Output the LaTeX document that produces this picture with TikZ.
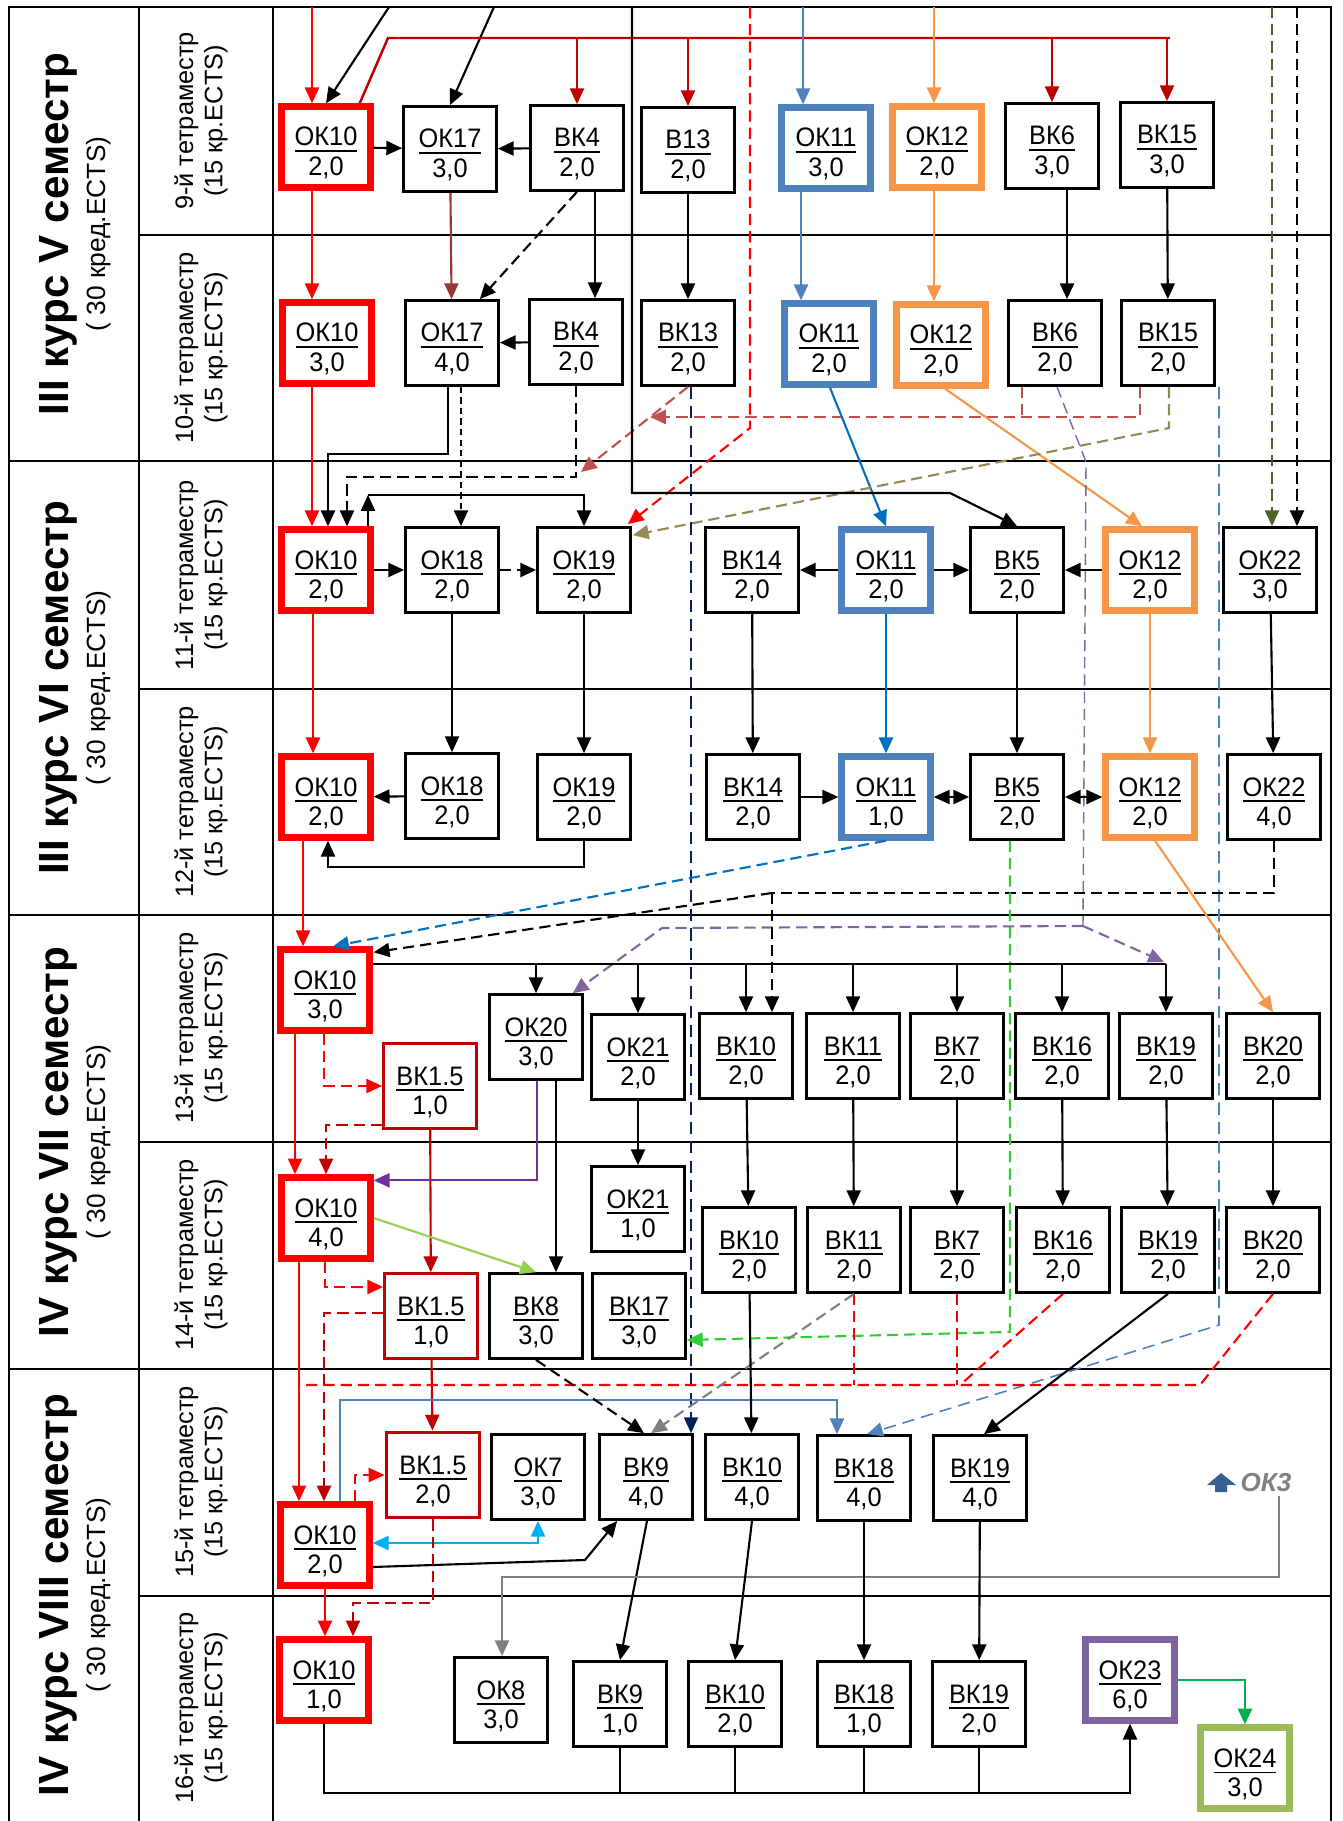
\documentclass[tikz,border=0pt]{standalone}
\usepackage{fontspec}
\setmainfont{Liberation Sans}
\newfontfamily\boxfont[FakeStretch=0.95]{Liberation Sans}
\usetikzlibrary{arrows.meta,positioning,calc}

\definecolor{cred}{HTML}{FF0000}
\definecolor{cdred}{HTML}{C00000}
\definecolor{cbrown}{HTML}{953735}
\definecolor{cblue}{HTML}{4F81BD}
\definecolor{cblue2}{HTML}{0070C0}
\definecolor{corange}{HTML}{F79646}
\definecolor{cpurple}{HTML}{8064A2}
\definecolor{cviolet}{HTML}{7030A0}
\definecolor{colive}{HTML}{938953}
\definecolor{cdolive}{HTML}{4F6228}
\definecolor{cnavy}{HTML}{002060}
\definecolor{cgreen}{HTML}{33CC33}
\definecolor{clgreen}{HTML}{92D050}
\definecolor{cokgreen}{HTML}{9BBB59}
\definecolor{cgreen2}{HTML}{00B050}
\definecolor{cgray}{HTML}{808080}
\definecolor{ccyan}{HTML}{00B0F0}
\definecolor{crose}{HTML}{C0504D}
\definecolor{cdblue}{HTML}{376092}

\tikzset{
  kbox/.style={draw, line width=0.75pt, minimum width=0.93cm, minimum height=0.85cm,
    inner sep=0pt, align=center, font=\boxfont\fontsize{7.6}{8.3}\selectfont},
  okbox/.style={kbox, line width=1.8pt, minimum width=0.89cm, minimum height=0.81cm},
  bkxbox/.style={kbox, draw=cdred},
  arr/.style={-{Triangle[length=4.5pt,width=4pt]}, line width=0.6pt},
  darr/.style={{Triangle[length=4.5pt,width=4pt]}-{Triangle[length=4.5pt,width=4pt]}, line width=0.6pt},
  dsh/.style={dash pattern=on 3.2pt off 1.7pt},
  dshs/.style={dash pattern=on 1.8pt off 1.2pt},
  dshl/.style={dash pattern=on 3.5pt off 2pt, line width=0.45pt},
  grid/.style={line width=0.8pt}
}
\newcommand{\kc}[2]{\rule{0pt}{8.7pt}\underline{#1}\\#2}

\begin{document}
\begin{tikzpicture}[x=0.01cm, y=-0.01cm]
  \useasboundingbox (0,0) rectangle (1343,1821);

  % table frame
  \draw[grid] (9,1821) -- (9,7) -- (1331,7) -- (1331,1821);
  \foreach \x in {139,273} \draw[grid] (\x,7) -- (\x,1821);
  \foreach \y in {461,915,1369} \draw[grid] (9,\y) -- (1331,\y);
  \foreach \y in {235,689,1142,1596} \draw[grid] (139,\y) -- (1331,\y);

  % headers
  \foreach \y/\kk/\sm in {234/III/V, 688/III/VI, 1142/IV/VII, 1595/IV/VIII} {
    \node[rotate=90, font=\fontsize{12}{14}\selectfont\bfseries] (kurs\sm) at (58,\y) {\kk\ курс \sm\ семестр};
    \node[rotate=90, font=\fontsize{7.5}{9}\selectfont] (kred\sm) at (99,\y) {( 30 кред.ECTS)};
  }
  \foreach \y/\tm in {121/9, 348/10, 575/11, 802/12, 1028/13, 1255/14, 1482/15, 1708/16}
    \node[rotate=90, align=center, font=\fontsize{7.2}{8.3}\selectfont] (tetra\tm) at (201,\y) {\tm-й тетраместр\\(15 кр.ECTS)};

  % 9
  \node[okbox, draw=cred] (ok10t9) at (326,147) {\kc{ОК10}{2,0}};
  \node[kbox] (ok17t9) at (450,149) {\kc{ОК17}{3,0}};
  \node[kbox] (bk4t9) at (577,148) {\kc{ВК4}{2,0}};
  \node[kbox] (b13t9) at (688,150) {\kc{В13}{2,0}};
  \node[okbox, draw=cblue] (ok11t9) at (826,148) {\kc{ОК11}{3,0}};
  \node[okbox, draw=corange] (ok12t9) at (937,147) {\kc{ОК12}{2,0}};
  \node[kbox] (bk6t9) at (1052,146) {\kc{ВК6}{3,0}};
  \node[kbox] (bk15t9) at (1167,145) {\kc{ВК15}{3,0}};
  % 10
  \node[okbox, draw=cred] (ok10t10) at (327,343) {\kc{ОК10}{3,0}};
  \node[kbox] (ok17t10) at (452,343) {\kc{ОК17}{4,0}};
  \node[kbox] (bk4t10) at (576,342) {\kc{ВК4}{2,0}};
  \node[kbox] (bk13t10) at (688,343) {\kc{ВК13}{2,0}};
  \node[okbox, draw=cblue] (ok11t10) at (829,344) {\kc{ОК11}{2,0}};
  \node[okbox, draw=corange] (ok12t10) at (941,345) {\kc{ОК12}{2,0}};
  \node[kbox] (bk6t10) at (1055,343) {\kc{ВК6}{2,0}};
  \node[kbox] (bk15t10) at (1168,343) {\kc{ВК15}{2,0}};
  % 11
  \node[okbox, draw=cred] (ok10t11) at (326,570) {\kc{ОК10}{2,0}};
  \node[kbox] (ok18t11) at (452,570) {\kc{ОК18}{2,0}};
  \node[kbox] (ok19t11) at (584,570) {\kc{ОК19}{2,0}};
  \node[kbox] (bk14t11) at (752,570) {\kc{ВК14}{2,0}};
  \node[okbox, draw=cblue] (ok11t11) at (886,570) {\kc{ОК11}{2,0}};
  \node[kbox] (bk5t11) at (1017,570) {\kc{ВК5}{2,0}};
  \node[okbox, draw=corange] (ok12t11) at (1150,570) {\kc{ОК12}{2,0}};
  \node[kbox] (ok22t11) at (1270,570) {\kc{ОК22}{3,0}};
  % 12
  \node[okbox, draw=cred] (ok10t12) at (326,797) {\kc{ОК10}{2,0}};
  \node[kbox] (ok18t12) at (452,796) {\kc{ОК18}{2,0}};
  \node[kbox] (ok19t12) at (584,797) {\kc{ОК19}{2,0}};
  \node[kbox] (bk14t12) at (753,797) {\kc{ВК14}{2,0}};
  \node[okbox, draw=cblue] (ok11t12) at (886,797) {\kc{ОК11}{1,0}};
  \node[kbox] (bk5t12) at (1017,797) {\kc{ВК5}{2,0}};
  \node[okbox, draw=corange] (ok12t12) at (1150,797) {\kc{ОК12}{2,0}};
  \node[kbox] (ok22t12) at (1274,797) {\kc{ОК22}{4,0}};
  % 13
  \node[okbox, draw=cred] (ok10t13) at (325,990) {\kc{ОК10}{3,0}};
  \node[bkxbox] (bkxt13) at (430,1086) {\kc{ВК1.5}{1,0}};
  \node[kbox] (ok20t13) at (536,1037) {\kc{ОК20}{3,0}};
  \node[kbox] (ok21t13) at (638,1057) {\kc{ОК21}{2,0}};
  \foreach \n/\x/\k in {bk10/746/ВК10, bk11/853/ВК11, bk7/957/ВК7, bk16/1062/ВК16, bk19/1166/ВК19, bk20/1273/ВК20}
    \node[kbox] (\n t13) at (\x,1056) {\kc{\k}{2,0}};
  % 14
  \node[okbox, draw=cred] (ok10t14) at (326,1218) {\kc{ОК10}{4,0}};
  \node[bkxbox] (bkxt14) at (431,1316) {\kc{ВК1.5}{1,0}};
  \node[kbox] (bk8t14) at (536,1316) {\kc{ВК8}{3,0}};
  \node[kbox] (bk17t14) at (639,1316) {\kc{ВК17}{3,0}};
  \node[kbox] (ok21t14) at (638,1209) {\kc{ОК21}{1,0}};
  \foreach \n/\x/\k in {bk10/749/ВК10, bk11/854/ВК11, bk7/957/ВК7, bk16/1063/ВК16, bk19/1168/ВК19, bk20/1273/ВК20}
    \node[kbox] (\n t14) at (\x,1250) {\kc{\k}{2,0}};
  % 15
  \node[okbox, draw=cred] (ok10t15) at (325,1545) {\kc{ОК10}{2,0}};
  \node[bkxbox, line width=1.1pt] (bkxt15) at (433,1475) {\kc{ВК1.5}{2,0}};
  \node[kbox] (ok7t15) at (538,1477) {\kc{ОК7}{3,0}};
  \node[kbox] (bk9t15) at (646,1477) {\kc{ВК9}{4,0}};
  \node[kbox] (bk10t15) at (752,1477) {\kc{ВК10}{4,0}};
  \node[kbox] (bk18t15) at (864,1478) {\kc{ВК18}{4,0}};
  \node[kbox] (bk19t15) at (980,1478) {\kc{ВК19}{4,0}};
  \fill[cdblue] (1207,1485) -- (1221,1473) -- (1236,1485) -- (1227,1485) -- (1227,1492)
    -- (1215,1492) -- (1215,1485) -- cycle;
  \node[font=\fontsize{7.4}{8}\selectfont\bfseries\itshape, text=cgray, inner sep=1pt] (ok3lbl) at (1266,1483) {ОК3};
  % 16
  \node[okbox, draw=cred] (ok10t16) at (324,1680) {\kc{ОК10}{1,0}};
  \node[kbox] (ok8t16) at (501,1700) {\kc{ОК8}{3,0}};
  \node[kbox] (bk9t16) at (620,1704) {\kc{ВК9}{1,0}};
  \node[kbox] (bk10t16) at (735,1704) {\kc{ВК10}{2,0}};
  \node[kbox] (bk18t16) at (864,1704) {\kc{ВК18}{1,0}};
  \node[kbox] (bk19t16) at (979,1704) {\kc{ВК19}{2,0}};
  \node[okbox, draw=cpurple] (ok23t16) at (1130,1680) {\kc{ОК23}{6,0}};
  \node[okbox, draw=cokgreen] (ok24t16) at (1245,1768) {\kc{ОК24}{3,0}};

  % entries from the top
  \coordinate (inA) at (312,7);
  \coordinate (inB) at (389,7);
  \coordinate (inC) at (494,7);
  \coordinate (inD) at (632,7);
  \coordinate (inE) at (750,7);
  \coordinate (inF) at (803,7);
  \coordinate (inG) at (934,7);
  \coordinate (inH) at (1272,7);
  \coordinate (inI) at (1297,7);

  % 9 -> 10
  \draw[arr, cred] (inA) -- (inA |- ok10t9.north);
  \draw[arr] (inB) -- (ok10t9.north);
  \draw[arr] (inC) -- (ok17t9.north);
  \draw[cdred, line width=0.7pt] ($(ok10t9.north east)+(-14,0)$) -- (388,38) -- (1170,38);
  \foreach \n in {bk4t9, b13t9, bk6t9, bk15t9}
    \draw[arr, cdred] (\n.north |- 0,38) -- (\n.north);
  \draw[arr, cred, dsh] (inE) -- (750,428) -- ($(ok19t11.north east)+(-4,-2)$);
  \draw[arr, cblue] (inF) -- (inF |- ok11t9.north);
  \draw[arr, corange] (inG) -- (inG |- ok12t9.north);
  \draw[arr] (ok10t9) -- (ok17t9);
  \draw[arr] (bk4t9) -- (ok17t9);
  \draw[arr, cred] (312,0 |- ok10t9.south) -- (312,0 |- ok10t10.north);
  \draw[arr, cbrown] (ok17t9) -- (ok17t10);
  \draw[arr, dsh] (bk4t9.south) -- ($(ok17t10.north east)+(-20,0)$);
  \draw[arr] (595,0 |- bk4t9.south) -- (595,0 |- bk4t10.north);
  \draw[arr] (b13t9) -- (bk13t10);
  \draw[arr, cblue] (801,0 |- ok11t9.south) -- (801,0 |- ok11t10.north);
  \draw[arr, corange] (934,0 |- ok12t9.south) -- (934,0 |- ok12t10.north);
  \draw[arr] (1067,0 |- bk6t9.south) -- (1067,0 |- bk6t10.north);
  \draw[arr] (bk15t9) -- (bk15t10);
  \draw[arr] (bk4t10) -- (ok17t10);

  % 10 -> 11
  \draw[arr, cred] (312,0 |- ok10t10.south) -- (312,0 |- ok10t11.north);
  \draw[arr] (448,0 |- ok17t10.south) |- (328,454) -- (328,0 |- ok10t11.north);
  \draw[arr, dsh] (bk4t10.south) |- (347,477) -- (347,0 |- ok10t11.north);
  \draw[arr, dshs] (461,0 |- ok17t10.south) -- (461,0 |- ok18t11.north);
  \draw[arr] (368,0 |- ok10t11.north) -- (368,495);
  \draw[arr] (368,495) -| (ok19t11.north);
  \draw[arr, crose, dsh] (bk13t10.south) -- (581,472);
  \draw[crose, dsh] (1022,0 |- bk6t10.south) -- (1022,417);
  \draw[arr, crose, dsh] (1140,0 |- bk15t10.south) |- (650,417);
  \draw[arr, cblue2] (830,0 |- ok11t10.south) -- (ok11t11.north);
  \draw[arr, corange] (945,0 |- ok12t10.south) -- ($(ok12t11.north)+(-8,0)$);
  \draw[cpurple, dsh] (1057,0 |- bk6t10.south) -- (1086,462) -- (1083,926) coordinate (pv);
  \draw[arr, cpurple, dsh] (pv) -- (662,928) -- ($(ok20t13.north east)+(-11,0)$);
  \draw[arr, cpurple, dsh] (pv) -- (1164,962);
  \draw[arr, colive, dsh] (1169,0 |- bk15t10.south) -- (1169,428) -- ($(ok19t11.north east)+(1,9)$);
  \draw[arr, cblue, dshl] (1219,0 |- bk15t10.south) -- (1219,1325) -- ($(bk18t15.north)+(3,0)$);
  \draw[arr, cnavy, dshl] (691,0 |- bk13t10.south) -- (691,0 |- bk9t15.north);
  \draw[arr, cdolive, dsh] (inH) -- (inH |- ok22t11.north);
  \draw[arr, dsh] (inI) -- (inI |- ok22t11.north);
  \draw[arr] (inD) |- (950,493) -- (bk5t11.north);

  % 11 -> 12
  \draw[arr] (ok10t11) -- (ok18t11);
  \draw[arr, dsh] (ok18t11) -- (ok19t11);
  \draw[arr] (ok11t11) -- (bk14t11);
  \draw[arr] (ok11t11) -- (bk5t11);
  \draw[arr] (ok12t11) -- (bk5t11);
  \draw[arr, cred] (313,0 |- ok10t11.south) -- (313,0 |- ok10t12.north);
  \foreach \n in {ok18, ok19, bk14, bk5, ok22}
    \draw[arr] (\n t11) -- (\n t12);
  \draw[arr, cblue2] (ok11t11) -- (ok11t12);
  \draw[arr, corange] (ok12t11) -- (ok12t12);
  \draw[arr] (ok18t12) -- (ok10t12);
  \draw[arr] (ok19t12.south) |- (328,867) -- (328,0 |- ok10t12.south);
  \draw[arr] (bk14t12) -- (ok11t12);
  \draw[darr] (ok11t12) -- (bk5t12);
  \draw[darr] (bk5t12) -- (ok12t12);

  % 12 -> 13
  \draw[arr, cred] (303,0 |- ok10t12.south) -- (303,0 |- ok10t13.north);
  \draw[arr, cblue2, dsh] (ok11t12.south) -- (333,0 |- ok10t13.north);
  \draw[dsh, line width=0.6pt] (ok22t12.south) |- (772,893) coordinate (kd);
  \draw[arr, dsh] (kd) -- ($(ok10t13.north east)+(1,6)$);
  \draw[arr, dsh] (kd) -- (kd |- bk10t13.north);
  \draw[arr, cgreen, dsh] (1010,0 |- bk5t12.south) -- (1010,1332) -- ($(bk17t14.east)+(0,24)$);
  \draw[arr, corange] (1155,0 |- ok12t12.south) -- (bk20t13.north);

  % 13 -> 14
  \draw[line width=0.6pt] (ok10t13.east |- 0,964) -- (1166,964);
  \foreach \n in {ok20t13, ok21t13, bk10t13, bk11t13, bk7t13, bk16t13, bk19t13}
    \draw[arr] (\n.north |- 0,964) -- (\n.north);
  \draw[arr, cred] (295,0 |- ok10t13.south) -- (295,0 |- ok10t14.north);
  \draw[arr, cred, dsh] (324,0 |- ok10t13.south) |- (bkxt13.west);
  \draw[arr, cdred, dsh] ($(bkxt13.west)+(0,39)$) -| (326,0 |- ok10t14.north);
  \draw[arr, cdred] (bkxt13) -- (bkxt14);
  \draw[arr, cviolet] (537,0 |- ok20t13.south) |- ($(ok10t14.north east)+(0,6)$);
  \draw[arr] (556,0 |- ok20t13.south) -- (556,0 |- bk8t14.north);
  \draw[arr] (ok21t13) -- (ok21t14);
  \draw[arr, clgreen] (ok10t14.east) -- (bk8t14.north);
  \foreach \n in {bk10, bk11, bk7, bk16, bk19, bk20}
    \draw[arr] (\n t13) -- (\n t14);

  % 14 -> 15
  \draw[arr, cred, dsh] (325,0 |- ok10t14.south) |- ($(bkxt14.west)+(0,-29)$);
  \draw[arr, cdred, dsh] ($(bkxt14.west)+(0,-3)$) -| (324,0 |- ok10t15.north);
  \draw[arr, cred] (299,0 |- ok10t14.south) -- (299,0 |- ok10t15.north);
  \draw[arr, cdred] (bkxt14) -- (bkxt15);
  \draw[cred, dsh, line width=0.6pt] (bk20t14.south) -- (1200,1385) -- (299,1385);
  \draw[cred, dsh, line width=0.6pt] (bk16t14.south) -- (960,1385);
  \draw[cred, dsh, line width=0.6pt] (bk7t14.south) -- (bk7t14.south |- 0,1385);
  \draw[cred, dsh, line width=0.6pt] (bk11t14.south) -- (bk11t14.south |- 0,1385);
  \draw[arr, cblue] (340,0 |- ok10t15.north) |- (837,1400) -- (837,0 |- bk18t15.north);
  \draw[arr, dsh] (bk8t14.south) -- ($(bk9t15.north)+(-2,0)$);
  \draw[arr, cgray, dsh] (bk11t14.south) -- ($(bk9t15.north)+(5,0)$);
  \draw[arr] (bk10t14) -- (bk10t15);
  \draw[arr] (bk19t14.south) -- ($(bk19t15.north)+(4,0)$);

  % 15 -> 16
  \draw[arr, cred, dsh] (355,0 |- ok10t15.north) |- (bkxt15.west);
  \draw[darr, ccyan] (ok10t15.east |- 0,1543) -| (ok7t15.south);
  \draw[arr] (ok10t15.east |- 0,1567) -- (585,1560) -- ($(bk9t15.south west)+(19,0)$);
  \draw[arr] (647,0 |- bk9t15.south) -- (bk9t16.north);
  \draw[arr, cgray] (1279,0 |- ok3lbl.south) |- (502,1577) -- (502,0 |- ok8t16.north);
  \draw[arr] (bk10t15.south) -- (bk10t16.north);
  \draw[arr] (bk18t15) -- (bk18t16);
  \draw[arr] (bk19t15) -- (bk19t16);
  \draw[arr, cred] (325,0 |- ok10t15.south) -- (325,0 |- ok10t16.north);
  \draw[arr, cdred, dsh] (bkxt15.south) |- (353,1603) -- (353,0 |- ok10t16.north);

  % 16
  \draw[arr] (ok10t16.south) |- (ok23t16.south |- 0,1793) -- (ok23t16.south);
  \foreach \n in {bk9t16, bk10t16, bk18t16, bk19t16}
    \draw[line width=0.6pt] (\n.south) -- (\n.south |- 0,1793);
  \draw[arr, cgreen2, line width=0.8pt] (ok23t16.east) -| (ok24t16.north);
\end{tikzpicture}
\end{document}
